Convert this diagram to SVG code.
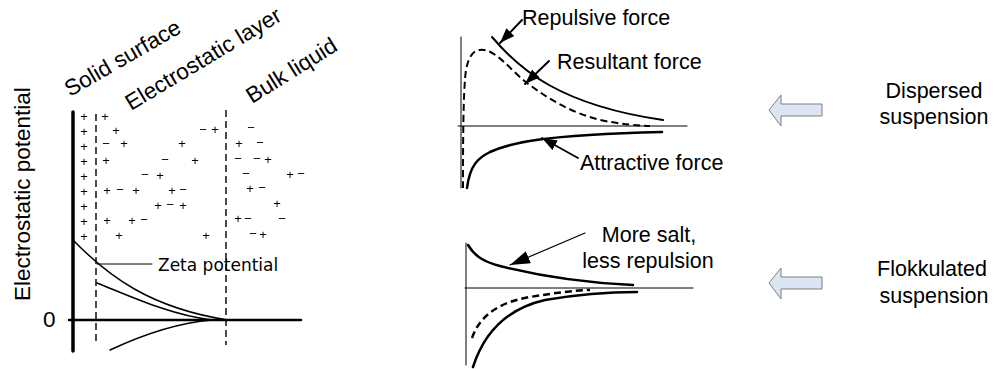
<svg xmlns="http://www.w3.org/2000/svg" width="995" height="369" viewBox="0 0 995 369">
<style>
.lbl{font-family:"Liberation Sans",Arial,sans-serif;font-size:21.5px;fill:#000}
.hd{font-family:"Liberation Sans",Arial,sans-serif;font-size:22.5px;fill:#000}
.ch{font-family:"Liberation Sans",Arial,sans-serif;font-size:13px;fill:#000;text-anchor:middle}
.zeta{font-family:"DejaVu Sans",Verdana,sans-serif;font-size:17px;fill:#000}
.ln{fill:none;stroke:#000;stroke-linecap:round}
.dash{fill:none;stroke:#000;stroke-dasharray:7 4}
.blk{fill:#dce6f2;stroke:#7f7f7f;stroke-width:1}
</style>
<defs>
<filter id="gray" x="-0.05" y="-0.05" width="1.1" height="1.1">
<feColorMatrix type="saturate" values="0"/>
</filter>
<marker id="ah" viewBox="0 0 15 11" refX="15" refY="5.5" markerWidth="15" markerHeight="11" markerUnits="userSpaceOnUse" orient="auto">
<path d="M0,0 L15,5.5 L0,11 Z" fill="#000"/>
</marker>
<marker id="ahL" viewBox="0 0 20 13" refX="20" refY="6.5" markerWidth="20" markerHeight="13" markerUnits="userSpaceOnUse" orient="auto">
<path d="M0,0 L20,6.5 L0,13 Z" fill="#000"/>
</marker>
</defs>
<rect width="995" height="369" fill="#fff"/>

<g id="double-layer">
<text class="hd" transform="translate(30,301) rotate(-90)">Electrostatic potential</text>
<text class="hd" x="43" y="327">0</text>
<text class="hd" transform="translate(70,97) rotate(-30)">Solid surface</text>
<text class="hd" transform="translate(131,111) rotate(-31)">Electrostatic layer</text>
<text class="hd" transform="translate(252,104) rotate(-32)">Bulk liquid</text>
<path class="ln" d="M73,112 V351" stroke-width="3.5"/>
<path class="dash" d="M96,114 V345" stroke-width="1.4"/>
<path class="dash" d="M226,110 V345" stroke-width="1.4"/>
<path class="ln" d="M69,320 H301" stroke-width="2.5"/>
<path class="ln" d="M73,240 C108,276 150,308 228,320" stroke-width="1.5"/>
<path class="ln" d="M97,283 C130,296 170,315 212,320" stroke-width="1.5"/>
<path class="ln" d="M110,350 C140,336 175,323 212,320" stroke-width="1.5"/>
<path class="ln" d="M97,264 H152" stroke-width="1"/>
<text class="zeta" x="158" y="271">Zeta potential</text>
<g id="charges" filter="url(#gray)">
<text class="ch" x="84" y="121">+</text><text class="ch" x="84" y="136">+</text><text class="ch" x="84" y="151">+</text>
<text class="ch" x="84" y="166">+</text><text class="ch" x="84" y="181">+</text><text class="ch" x="84" y="196">+</text>
<text class="ch" x="84" y="211">+</text><text class="ch" x="84" y="226">+</text><text class="ch" x="84" y="241">+</text>
<text class="ch" x="105" y="121">+</text>
<text class="ch" x="116" y="135">+</text><text class="ch" x="203" y="134">−</text><text class="ch" x="215" y="134">+</text>
<text class="ch" x="106" y="148">−</text><text class="ch" x="124" y="148">+</text><text class="ch" x="182" y="148">+</text>
<text class="ch" x="106" y="165">+</text><text class="ch" x="165" y="164">−</text><text class="ch" x="195" y="165">+</text>
<text class="ch" x="145" y="179">−</text><text class="ch" x="160" y="180">+</text>
<text class="ch" x="107" y="195">+</text><text class="ch" x="120" y="194">−</text><text class="ch" x="136" y="195">+</text><text class="ch" x="172" y="195">+</text><text class="ch" x="183" y="194">−</text>
<text class="ch" x="158" y="210">+</text><text class="ch" x="170" y="209">−</text><text class="ch" x="183" y="210">+</text>
<text class="ch" x="107" y="225">+</text><text class="ch" x="132" y="225">+</text><text class="ch" x="144" y="224">−</text>
<text class="ch" x="119" y="240">+</text><text class="ch" x="206" y="240">+</text>
<text class="ch" x="251" y="132">−</text>
<text class="ch" x="239" y="148">+</text><text class="ch" x="260" y="147">−</text>
<text class="ch" x="238" y="163">−</text><text class="ch" x="257" y="163">−</text><text class="ch" x="268" y="164">+</text>
<text class="ch" x="246" y="178">−</text><text class="ch" x="290" y="179">+</text><text class="ch" x="301" y="178">−</text>
<text class="ch" x="250" y="193">+</text><text class="ch" x="262" y="192">−</text>
<text class="ch" x="277" y="208">+</text>
<text class="ch" x="238" y="223">+</text><text class="ch" x="248" y="223">−</text><text class="ch" x="282" y="223">−</text>
<text class="ch" x="253" y="238">−</text><text class="ch" x="263" y="239">+</text>
</g>
</g>

<g id="dispersed-chart">
<path class="ln" d="M461,37 V188" stroke-width="1"/>
<path class="ln" d="M458,126 H687" stroke-width="1"/>
<path class="ln" d="M492,37 C520,70 560,105 663,120" stroke-width="2"/>
<path class="dash" d="M463,188 C463,150 463,90 466,70 C469,55 474,50 480,50 C495,48 510,70 527,83 C550,100 570,112 600,120 C620,124 640,126 650,126" stroke-width="2"/>
<path class="ln" d="M467,188 C470,165 478,158 490,152 C510,143 540,135 662,132" stroke-width="2.5"/>
<text class="lbl" x="522" y="25">Repulsive force</text>
<text class="lbl" x="557" y="69">Resultant force</text>
<text class="lbl" x="580" y="170">Attractive force</text>
</g>

<g id="flocculated-chart">
<path class="ln" d="M466,243 V365" stroke-width="1"/>
<path class="ln" d="M465,288 H693" stroke-width="1"/>
<path class="ln" d="M468,245 C475,257 485,262 500,266 C540,276 590,283 633,285" stroke-width="2.5"/>
<path class="dash" d="M472,338 C480,315 500,302 530,297 C560,292 580,290 590,290" stroke-width="2.5"/>
<path class="ln" d="M473,367 C485,330 510,308 545,300 C580,294 610,292 637,292" stroke-width="2.5"/>
<text class="lbl" x="649" y="242" text-anchor="middle" font-size="22.5">More salt,</text>
<text class="lbl" x="648" y="268" text-anchor="middle" font-size="22.5">less repulsion</text>
</g>

<g id="dispersed-label">
<path class="blk" d="M769,110 L781,95 L781,104 L822,104 L822,116 L781,116 L781,126 Z"/>
<text class="lbl" x="934" y="98" text-anchor="middle" font-size="22.5">Dispersed</text>
<text class="lbl" x="934" y="124" text-anchor="middle" font-size="22.5">suspension</text>
</g>

<g id="flocculated-label">
<path class="blk" d="M769,283 L781,268 L781,277 L822,277 L822,289 L781,289 L781,299 Z"/>
<text class="lbl" x="932" y="276" text-anchor="middle" font-size="22.5">Flokkulated</text>
<text class="lbl" x="934" y="303" text-anchor="middle" font-size="22.5">suspension</text>
</g>

<g id="connectors">
<path class="ln" d="M522,20 L500,43" stroke-width="2" marker-end="url(#ah)"/>
<path class="ln" d="M549,61 L525,84" stroke-width="2" marker-end="url(#ah)"/>
<path class="ln" d="M578,158 L542,138" stroke-width="1.8" marker-end="url(#ah)"/>
<path class="ln" d="M585,233 L510,265" stroke-width="1.2" marker-end="url(#ahL)"/>
</g>
</svg>
